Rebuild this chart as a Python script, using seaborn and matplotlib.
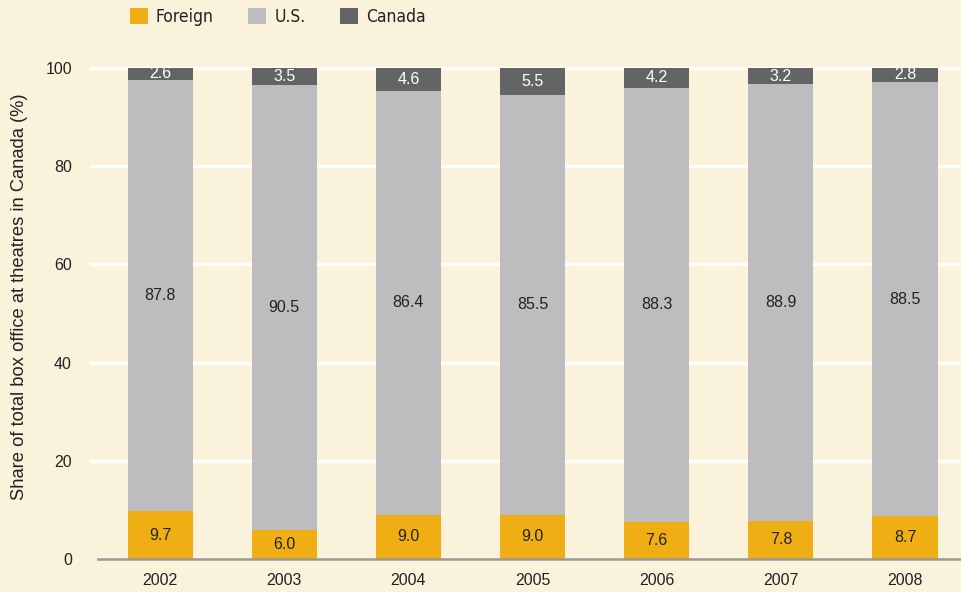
import matplotlib
matplotlib.use("Agg")
import matplotlib.pyplot as plt
from matplotlib.patches import Patch
import seaborn as sns
import pandas as pd
import numpy as np

years = ["2002", "2003", "2004", "2005", "2006", "2007", "2008"]
foreign = [9.7, 6.0, 9.0, 9.0, 7.6, 7.8, 8.7]
us = [87.8, 90.5, 86.4, 85.5, 88.3, 88.9, 88.5]
canada = [2.6, 3.5, 4.6, 5.5, 4.2, 3.2, 2.8]
series_names = ["Foreign", "U.S.", "Canada"]
colors = ["#EFAF14", "#BDBDBF", "#636466"]

bg = "#FBF2DC"
ink = "#222222"
sns.set_theme(style="white")
plt.rcParams["font.family"] = ["Liberation Sans", "DejaVu Sans"]

W, H = 962, 592
fig = plt.figure(figsize=(W / 100, H / 100), dpi=100, facecolor=bg)
ax = fig.add_axes([90 / W, 33 / H, 872 / W, 491 * 1.03 / H])
ax.set_facecolor(bg)

df = pd.DataFrame({"year": years, "Foreign": foreign, "U.S.": us, "Canada": canada})
df["lvl1"] = df["Foreign"]
df["lvl2"] = df["Foreign"] + df["U.S."]
df["lvl3"] = df["lvl2"] + df["Canada"]

# stacked bars: draw cumulative totals from the top layer down
bw = 65 / 124.1
for col, c in zip(["lvl3", "lvl2", "lvl1"], colors[::-1]):
    sns.barplot(data=df, x="year", y=col, color=c, width=bw, ax=ax,
                saturation=1, linewidth=0, zorder=3)

# value labels centred in each segment
fs = 11.5
for i in range(len(years)):
    f, u, c = foreign[i], us[i], canada[i]
    ax.text(i, f / 2, f"{f:.1f}", ha="center", va="center", fontsize=fs,
            color=ink, zorder=5)
    ax.text(i, f + u / 2, f"{u:.1f}", ha="center", va="center", fontsize=fs,
            color=ink, zorder=5)
    ax.text(i, f + u + c / 2, f"{c:.1f}", ha="center", va="center", fontsize=fs,
            color="white", zorder=5)

ax.set_ylim(0, 103)
ax.set_xlim(-0.5645, 6.459)
ax.set_yticks([0, 20, 40, 60, 80, 100])
ax.set_yticklabels(["0", "20", "40", "60", "80", "100"], fontsize=fs, color=ink)
for yv in [20, 40, 60, 80, 100]:
    ax.axhline(yv, color="white", lw=2.4, zorder=1)

ax.tick_params(axis="y", length=0, pad=13)
ax.tick_params(axis="x", which="major", length=0, pad=10, labelsize=fs, labelcolor=ink)
ax.set_xticks(np.arange(-0.5, 6.0, 1.0), minor=True)
ax.tick_params(axis="x", which="minor", length=5, width=1.6, color="#999999", direction="out")

for s in ["top", "right", "left"]:
    ax.spines[s].set_visible(False)
ax.spines["bottom"].set_color("#999999")
ax.spines["bottom"].set_linewidth(1.8)
ax.spines["bottom"].set_bounds(-0.5, 6.459)
ax.spines["bottom"].set_zorder(6)

ax.set_xlabel("")
ax.set_ylabel("Share of total box office at theatres in Canada (%)", fontsize=13.2, color=ink)
ax.yaxis.set_label_coords(-0.071, 0.518)

handles = [Patch(facecolor=c, edgecolor="none", label=n) for n, c in zip(series_names, colors)]
leg = fig.legend(handles=handles, loc="center left", bbox_to_anchor=(114 / W, 1 - 17 / H),
                 ncol=3, frameon=False, handlelength=1.05, handleheight=1.05,
                 handletextpad=0.45, columnspacing=2.0,
                 prop={"family": ["DejaVu Sans"], "stretch": "condensed", "size": 12.5})
for t in leg.get_texts():
    t.set_color(ink)

fig.savefig("out.png", dpi=100, facecolor=bg)
